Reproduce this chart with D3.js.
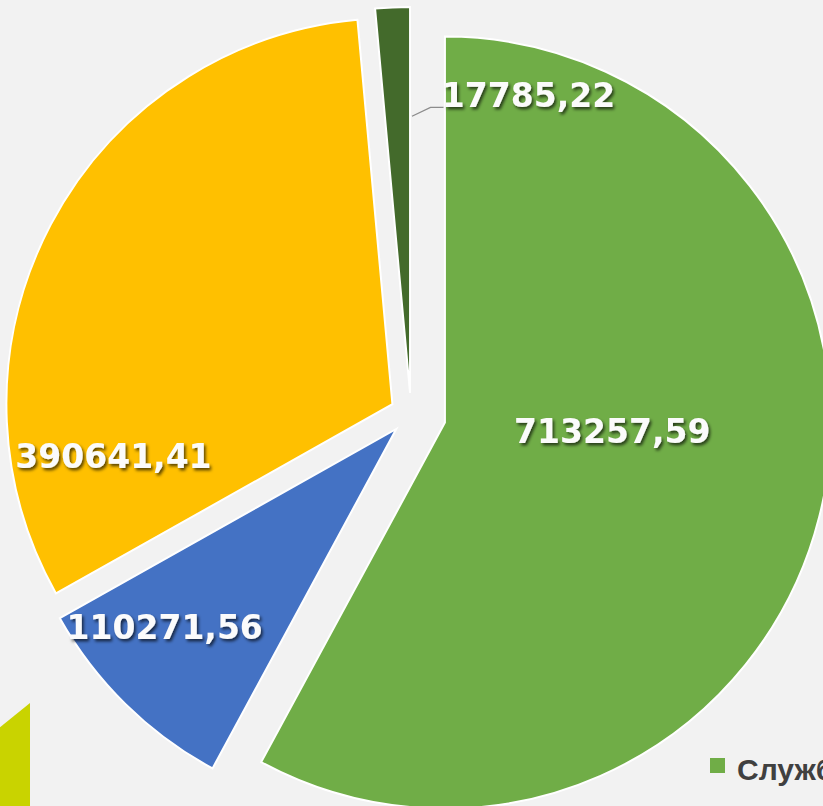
<!DOCTYPE html>
<html><head><meta charset="utf-8">
<script src="https://cdn.jsdelivr.net/npm/d3@7"></script>
<style>html,body{margin:0;padding:0;background:#f2f2f2;overflow:hidden}</style>
</head><body><svg id="chart" width="823" height="806"></svg>
<script>
// ---- data ----
const categories = ["Служба", "Категория 2", "Категория 3", "Категория 4"];
const values = [713257.59, 110271.56, 390641.41, 17785.22];
const colors = ["#70AD47", "#4472C4", "#FFC000", "#436A2B"];
const legendItems = ["Служба"];

// ---- layout ----
const W = 823, H = 806;
const cx = 411, cy = 414, R = 386;
const explode = [35, 21, 21, 21];
// label placement: [angle in degrees (clockwise from top), radius fraction]
const labelPolar = [[92.9, 0.434], [229.5, 0.789], [259.5, 0.735], [21.7, 0.83]];

const svg = d3.select("#chart");
svg.append("rect").attr("width", W).attr("height", H).attr("fill", "#f2f2f2");

const defs = svg.append("defs");
const f = defs.append("filter").attr("id", "shadow").attr("x", "-20%").attr("y", "-40%").attr("width", "140%").attr("height", "180%");
f.append("feDropShadow").attr("dx", 1.8).attr("dy", 2.4).attr("stdDeviation", 1.4)
  .attr("flood-color", "#000").attr("flood-opacity", 0.65);

const polar = (a, r) => [r * Math.sin(a), -r * Math.cos(a)];
const rad = d => d * Math.PI / 180;

// fragment of a neighbouring chart visible at bottom-left
const frag = d3.arc().innerRadius(0).outerRadius(200)({startAngle: rad(180), endAngle: rad(231)});
svg.append("path").attr("d", frag).attr("transform", "translate(30,703)").attr("fill", "#C9D300");

const pie = d3.pie().sort(null).startAngle(0).endAngle(2 * Math.PI);
const arcs = pie(values);
const arc = d3.arc().innerRadius(0).outerRadius(R);

const g = svg.append("g").attr("transform", `translate(${cx},${cy})`);

const vert = arcs.map((d, i) => {
  const mid = (d.startAngle + d.endAngle) / 2;
  return polar(mid, explode[i]);
});

g.selectAll("path.slice").data(arcs).join("path")
  .attr("class", "slice")
  .attr("d", arc)
  .attr("transform", (d, i) => `translate(${vert[i][0]},${vert[i][1]})`)
  .attr("fill", (d, i) => colors[i])
  .attr("stroke", "#ffffff").attr("stroke-width", 2).attr("stroke-linejoin", "miter");

const loc = d3.formatLocale({decimal: ",", thousands: "", grouping: [3], currency: ["", ""]});
const fmt = loc.format(".2f");

const labelPos = arcs.map((d, i) => {
  const p = polar(rad(labelPolar[i][0]), labelPolar[i][1] * R);
  return [vert[i][0] + p[0], vert[i][1] + p[1]];
});

// leader line for the small slice
{
  const i = 3, d = arcs[i];
  const s = polar(d.endAngle + rad(0.4), 0.717 * R);
  const x0 = vert[i][0] + s[0], y0 = vert[i][1] + s[1];
  const lx = labelPos[i][0] - 85, ly = labelPos[i][1] + 12;
  g.append("polyline")
    .attr("points", `${x0},${y0} ${lx - 13},${ly} ${lx},${ly}`)
    .attr("fill", "none").attr("stroke", "#8c8c8c").attr("stroke-width", 1.3);
}

g.selectAll("text.lbl").data(arcs).join("text")
  .attr("class", "lbl")
  .attr("x", (d, i) => labelPos[i][0])
  .attr("y", (d, i) => labelPos[i][1])
  .attr("dy", "0.36em")
  .attr("text-anchor", "middle")
  .attr("font-family", "'DejaVu Sans', Verdana, sans-serif")
  .attr("font-weight", "bold")
  .attr("font-size", 33)
  .attr("fill", "#fbfbfb")
  .attr("filter", "url(#shadow)")
  .text(d => fmt(d.value));

// legend (cut off at the right edge, as in the reference)
const lg = svg.append("g").attr("transform", "translate(710,758)");
lg.append("rect").attr("width", 15).attr("height", 15).attr("fill", colors[0]);
lg.append("text").attr("x", 27).attr("y", 22)
  .attr("font-family", "'Liberation Sans', Arial, sans-serif")
  .attr("font-weight", "bold").attr("font-size", 30).attr("fill", "#404040")
  .text(legendItems[0]);
</script>
</body></html>
